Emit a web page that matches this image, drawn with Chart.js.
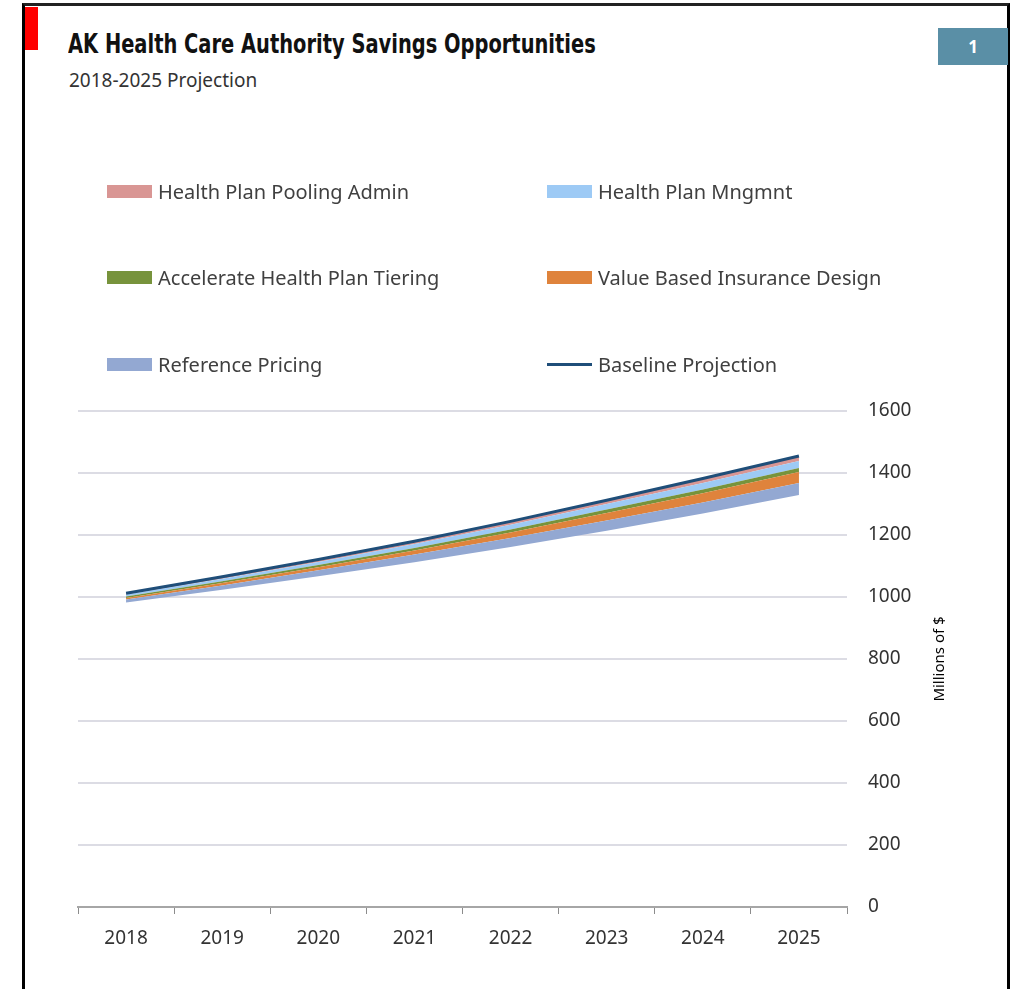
<!DOCTYPE html>
<html>
<head>
<meta charset="utf-8">
<script src="https://cdn.jsdelivr.net/npm/chart.js@4/dist/chart.umd.min.js"></script>
<style>
  html, body { margin: 0; padding: 0; background: #fff; }
  body { width: 1015px; height: 989px; position: relative; overflow: hidden; font-family: 'Noto Sans', sans-serif; }
  #frame { position: absolute; left: 22px; top: 3px; width: 982px; height: 990px;
           border-left: 3px solid #000; border-top: 3px solid #222; border-right: 3px solid #000; }
  #marker { position: absolute; left: 25px; top: 7px; width: 13px; height: 43px; background: #f00; }
  #title { position: absolute; left: 68px; top: 29px; font-family: 'DejaVu Sans', sans-serif; font-stretch: condensed;
           font-weight: bold; font-size: 26px; color: #111; white-space: nowrap; transform-origin: 0 0; }
  #subtitle { position: absolute; left: 69px; top: 67px; font-size: 19px; color: #333; white-space: nowrap; }
  #page { position: absolute; left: 938px; top: 28px; width: 70px; height: 37px; background: #5a8fa6;
          color: #fff; font-weight: bold; font-size: 17px; line-height: 37px; text-align: center; }
  #chart { position: absolute; left: 0; top: 0; }
  #legend { position: absolute; left: 107px; top: 174px; display: grid; grid-template-columns: 440px 440px; grid-auto-rows: 86.5px; }
  .item { display: flex; align-items: center; height: 34px; font-size: 20px; color: #404040; white-space: nowrap; }
  .sw { width: 45px; height: 13px; margin-right: 6px; flex: none; }
  .sw.line { height: 3px; }
</style>
</head>
<body>
<div id="frame"></div>
<div id="marker"></div>
<div id="title">AK Health Care Authority Savings Opportunities</div>
<div id="subtitle">2018-2025 Projection</div>
<div id="page">1</div>
<canvas id="chart" width="1015" height="989"></canvas>
<div id="legend"></div>
<script>
const years = ['2018', '2019', '2020', '2021', '2022', '2023', '2024', '2025'];

// Millions of $
const baseline = [1012, 1065, 1121, 1180, 1244, 1312, 1382, 1455];
const referencePricing = [10, 14, 19, 25, 29, 33, 36, 39];
const valueBased = [5, 8, 10, 13, 18, 24, 30, 35];
const tiering = [5, 6, 7, 8, 10, 11, 12, 13];
const planMgmt = [6, 8, 10, 13, 15, 18, 21, 23];
const poolingAdmin = [4, 6, 8, 9, 11, 12, 14, 16];

const yMax = 1600;
const yStep = 200;

// squeeze the title into the width it has in the original
const titleEl = document.getElementById('title');
titleEl.style.transform = 'scaleX(' + (528 / titleEl.offsetWidth) + ')';

// projected spend left after all savings (invisible bottom of the stack)
const afterSavings = baseline.map((b, i) =>
  b - referencePricing[i] - valueBased[i] - tiering[i] - planMgmt[i] - poolingAdmin[i]);

function band(label, data, color) {
  return {
    label: label, data: data, stack: 'bands', fill: '-1',
    backgroundColor: color, borderColor: color, borderWidth: 0,
    pointRadius: 0, tension: 0
  };
}

const ctx = document.getElementById('chart').getContext('2d');

const chart = new Chart(ctx, {
  type: 'line',
  data: {
    labels: years,
    datasets: [
      { label: 'base', data: afterSavings, stack: 'bands', fill: false,
        borderWidth: 0, borderColor: 'rgba(0,0,0,0)', pointRadius: 0 },
      band('Reference Pricing', referencePricing, '#93a8d2'),
      band('Value Based Insurance Design', valueBased, '#df833c'),
      band('Accelerate Health Plan Tiering', tiering, '#77933c'),
      band('Health Plan Mngmnt', planMgmt, '#9dcaf5'),
      band('Health Plan Pooling Admin', poolingAdmin, '#d99694'),
      { label: 'Baseline Projection', data: baseline, stack: 'line', order: -1, fill: false,
        borderColor: '#1f4e79', borderWidth: 3, pointRadius: 0, tension: 0 }
    ]
  },
  options: {
    responsive: false,
    animation: false,
    layout: { padding: { left: 78, top: 411, right: 0, bottom: 22 } },
    plugins: { legend: { display: false }, tooltip: { enabled: false } },
    scales: {
      x: {
        offset: true,
        grid: { offset: true, drawOnChartArea: false, drawTicks: true, tickLength: 7, color: '#8c8c8c', lineWidth: 1 },
        border: { display: true, color: '#a6a6a6', width: 2 },
        ticks: { padding: 13, color: '#333', font: { family: 'Noto Sans', size: 19 } },
        afterFit: s => { s.height = 60; }
      },
      y: {
        position: 'right',
        stacked: true,
        min: 0, max: yMax,
        grid: { drawTicks: false, lineWidth: 2,
                color: c => c.tick && c.tick.value === 0 ? 'rgba(0,0,0,0)' : '#dcdce4' },
        border: { display: false },
        ticks: { stepSize: yStep, padding: 21, color: '#333', font: { family: 'Noto Sans', size: 19 },
                 callback: v => String(v) },
        afterFit: s => { s.width = 168; }
      }
    }
  },
  plugins: [{
    id: 'yTitle',
    afterDraw(c) {
      const a = c.chartArea;
      const g = c.ctx;
      g.save();
      g.translate(940, (a.top + a.bottom) / 2);
      g.rotate(-Math.PI / 2);
      g.font = '15px "Noto Sans"';
      g.fillStyle = '#000';
      g.textAlign = 'center';
      g.textBaseline = 'middle';
      g.fillText('Millions of $', 0, 0);
      g.restore();
    }
  }]
});

// legend laid out in two columns like the original
const legendOrder = ['Health Plan Pooling Admin', 'Health Plan Mngmnt', 'Accelerate Health Plan Tiering',
                     'Value Based Insurance Design', 'Reference Pricing', 'Baseline Projection'];
const legendEl = document.getElementById('legend');
legendOrder.forEach(name => {
  const ds = chart.data.datasets.find(d => d.label === name);
  const item = document.createElement('div');
  item.className = 'item';
  const sw = document.createElement('span');
  const isLine = ds.fill === false;
  sw.className = isLine ? 'sw line' : 'sw';
  sw.style.background = isLine ? ds.borderColor : ds.backgroundColor;
  item.appendChild(sw);
  item.appendChild(document.createTextNode(name));
  legendEl.appendChild(item);
});
</script>
</body>
</html>
